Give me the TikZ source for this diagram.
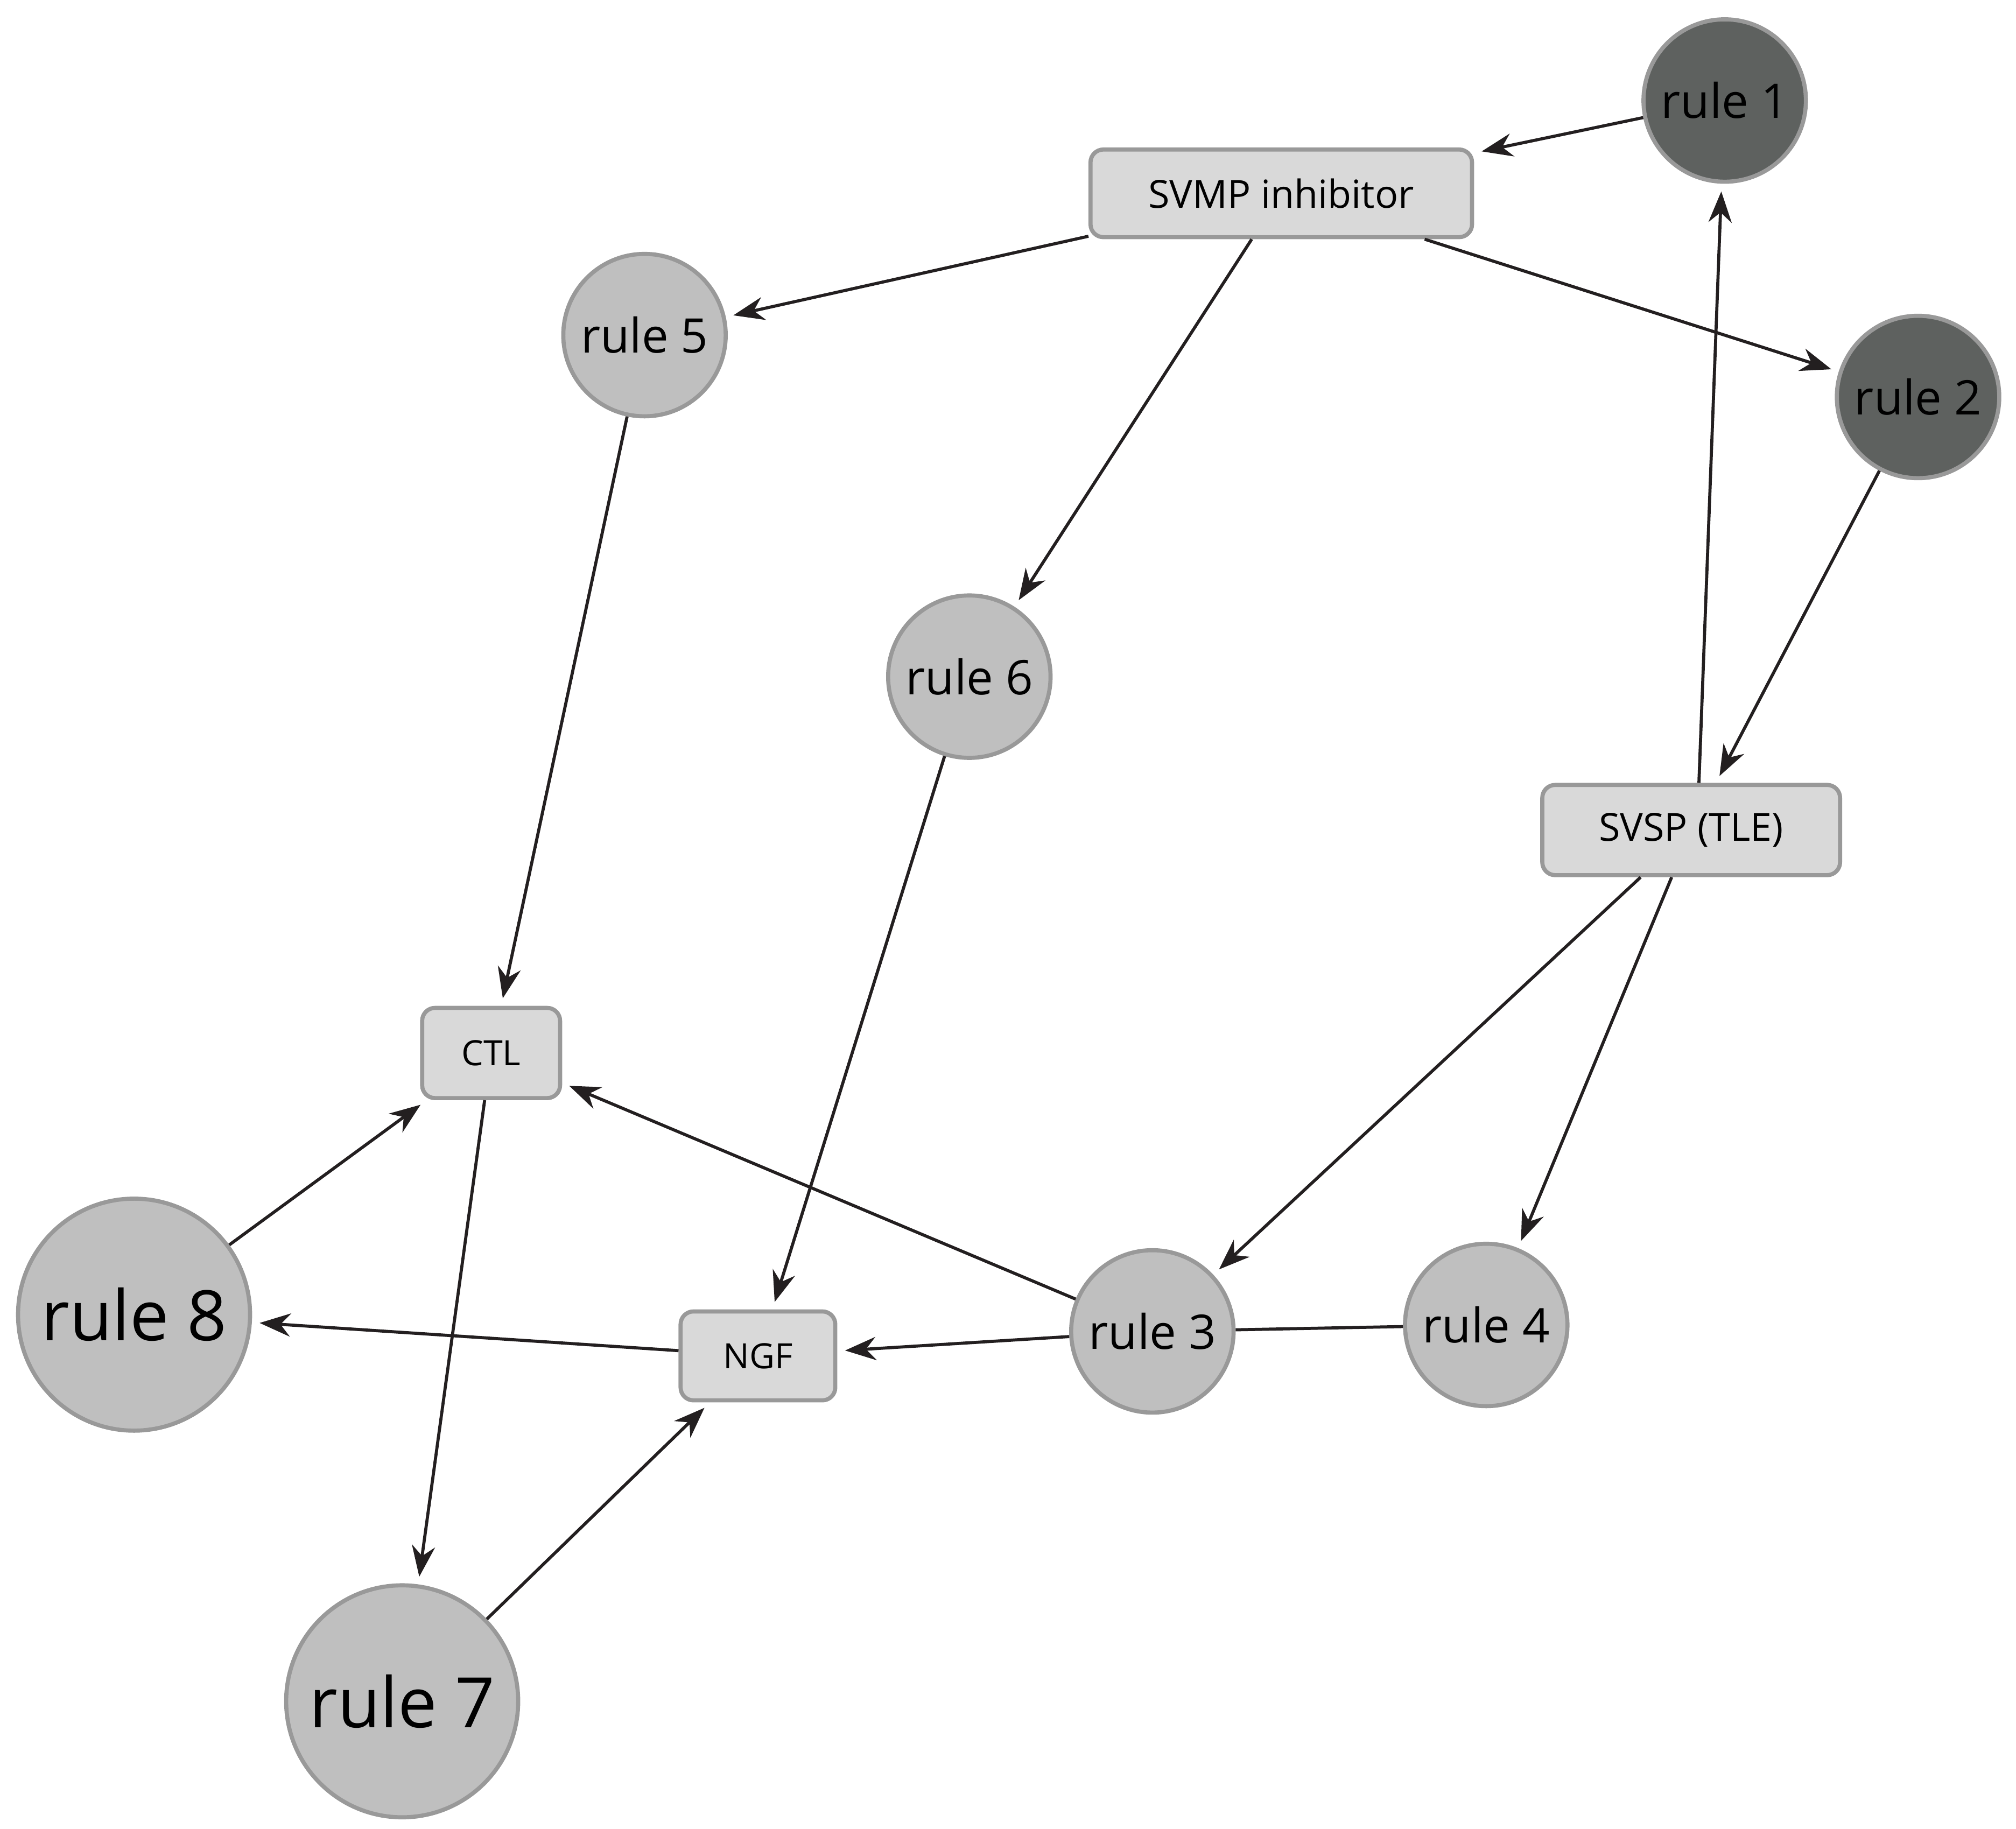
\documentclass[tikz,border=0pt]{standalone}
\usepackage{fontspec}
\setmainfont{Open Sans}
\usetikzlibrary{arrows.meta}
\begin{document}
\begin{tikzpicture}[x=0.5pt,y=-0.5pt,
  rl/.style={circle,draw=black!40,line width=1.6pt,fill=black!25,inner sep=0pt,minimum size=63pt,font=\fontsize{18.5}{20}\selectfont},
  dk/.style={rl,fill={rgb,255:red,94;green,97;blue,95}},
  big/.style={rl,minimum size=90pt,font=\fontsize{27}{30}\selectfont},
  bx/.style={rectangle,rounded corners=5pt,draw=black!40,line width=1.6pt,fill=black!15,inner sep=0pt,font=\fontsize{15}{17}\selectfont},
  ar/.style={line width=1.2pt,draw={rgb,255:red,35;green,31;blue,32},-{Stealth[length=12pt,width=9pt]},shorten >=3pt},
  ln/.style={line width=1.2pt,draw={rgb,255:red,35;green,31;blue,32}}]
\useasboundingbox (0,0) rectangle (1564,1419);
\node[dk] (r1) at (1338,78) {rule 1};
\node[dk] (r2) at (1488,308) {rule 2};
\node[rl] (r5) at (500,260) {rule 5};
\node[rl] (r6) at (752,525) {rule 6};
\node[rl] (r3) at (894,1033) {rule 3};
\node[rl] (r4) at (1153,1028) {rule 4};
\node[big] (r8) at (104,1020) {rule 8};
\node[big] (r7) at (312,1320) {rule 7};
\node[bx,minimum width=148pt,minimum height=34pt] (svmp) at (994,150) {SVMP inhibitor};
\node[bx,minimum width=115.5pt,minimum height=35pt] (svsp) at (1312,644) {SVSP (TLE)};
\node[bx,minimum width=53.5pt,minimum height=35pt,font=\fontsize{13.5}{15}\selectfont] (ctl) at (381,817) {CTL};
\node[bx,minimum width=60pt,minimum height=34.5pt,font=\fontsize{13.5}{15}\selectfont] (ngf) at (588,1052) {NGF};
\draw[ar] (r1) -- (svmp);
\draw[ar] (svmp) -- (r5);
\draw[ar] (svmp) -- (r6);
\draw[ar] (svmp) -- (r2);
\draw[ar] (r2) -- (svsp);
\draw[ar] ([xshift=3pt]svsp.north) -- (r1);
\draw[ar] (svsp) -- (r3);
\draw[ar] (svsp) -- (r4);
\draw[ar] (r5) -- (ctl);
\draw[ar] (r6) -- (ngf);
\draw[ar] (r3) -- (ctl);
\draw[ar] (r3) -- (ngf);
\draw[ln] (r4) -- (r3);
\draw[ar] (ctl) -- (r7);
\draw[ar] (r8) -- (ctl);
\draw[ar] (ngf) -- (r8);
\draw[ar] (r7) -- (ngf);
\end{tikzpicture}
\end{document}
